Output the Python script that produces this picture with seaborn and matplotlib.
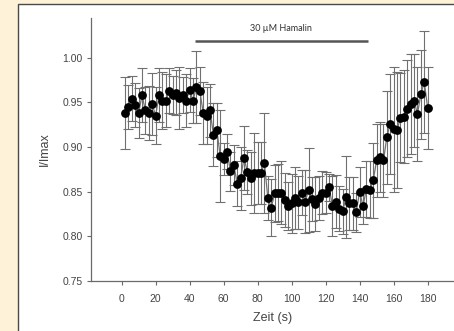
import matplotlib
matplotlib.use("Agg")
import matplotlib.pyplot as plt
from matplotlib.patches import Rectangle
import numpy as np
import pandas as pd
import seaborn as sns

# time points (s) and normalised current values
zeit = list(range(2, 182, 2))
i_imax = [
    0.938, 0.945, 0.954, 0.947, 0.938, 0.958, 0.941, 0.938, 0.948, 0.935,
    0.958, 0.952, 0.952, 0.963, 0.958, 0.961, 0.955, 0.958, 0.952, 0.964,
    0.952, 0.967, 0.963, 0.938, 0.935, 0.941, 0.914, 0.919, 0.890, 0.887,
    0.895, 0.873, 0.880, 0.859, 0.865, 0.888, 0.872, 0.865, 0.871, 0.871,
    0.871, 0.882, 0.843, 0.832, 0.848, 0.849, 0.849, 0.841, 0.834, 0.837,
    0.843, 0.838, 0.849, 0.839, 0.852, 0.842, 0.836, 0.843, 0.849, 0.849,
    0.855, 0.834, 0.839, 0.831, 0.828, 0.844, 0.837, 0.837, 0.827, 0.850,
    0.834, 0.853, 0.852, 0.863, 0.885, 0.889, 0.885, 0.911, 0.926, 0.920,
    0.919, 0.933, 0.934, 0.943, 0.948, 0.952, 0.937, 0.959, 0.973, 0.944,
]
fehler = [
    0.040, 0.025, 0.025, 0.025, 0.028, 0.030, 0.026, 0.030, 0.035, 0.032,
    0.030, 0.032, 0.030, 0.025, 0.021, 0.025, 0.035, 0.020, 0.030, 0.025,
    0.025, 0.040, 0.027, 0.035, 0.032, 0.030, 0.035, 0.030, 0.052, 0.018,
    0.020, 0.022, 0.022, 0.025, 0.035, 0.036, 0.025, 0.030, 0.045, 0.035,
    0.035, 0.056, 0.025, 0.032, 0.032, 0.032, 0.035, 0.030, 0.027, 0.033,
    0.035, 0.030, 0.025, 0.035, 0.047, 0.025, 0.030, 0.025, 0.024, 0.023,
    0.015, 0.034, 0.030, 0.025, 0.025, 0.046, 0.030, 0.030, 0.022, 0.028,
    0.020, 0.031, 0.032, 0.042, 0.041, 0.039, 0.041, 0.052, 0.056, 0.070,
    0.065, 0.050, 0.052, 0.054, 0.056, 0.052, 0.053, 0.050, 0.057, 0.046,
]
x_ticks = [0, 20, 40, 60, 80, 100, 120, 140, 160, 180]
y_ticks = [0.75, 0.80, 0.85, 0.90, 0.95, 1.00]
balken_start, balken_ende = 43, 145
balken_label = "30 µM Hamalin"

df = pd.DataFrame({"zeit": zeit, "i_imax": i_imax, "fehler": fehler})

sns.set_theme(style="white")
plt.rcParams["font.family"] = ["Liberation Sans", "DejaVu Sans"]

fig = plt.figure(figsize=(4.54, 3.31), dpi=100)
fig.patch.set_facecolor("#fef3d8")
fig.patches.append(Rectangle((18 / 454, -0.01), 1.0, (331 - 4) / 331 + 0.01,
                             transform=fig.transFigure, facecolor="white",
                             edgecolor="#4a4a4a", linewidth=1.0, zorder=-10))

ax = fig.add_axes([91 / 454, 50 / 331, 1 - 91 / 454, 263 / 331])
ax.set_facecolor("none")

ax.errorbar(df["zeit"], df["i_imax"], yerr=df["fehler"], fmt="none",
            ecolor="#707070", elinewidth=0.8, capsize=3.3, capthick=0.8, zorder=1)
sns.lineplot(data=df, x="zeit", y="i_imax", color="#707070", linewidth=0.9,
             ax=ax, zorder=2)
sns.scatterplot(data=df, x="zeit", y="i_imax", color="black", s=40,
                edgecolor="black", linewidth=0, ax=ax, zorder=3)

ax.plot([balken_start, balken_ende], [1.019, 1.019], color="#555555",
        linewidth=1.8, solid_capstyle="butt", clip_on=False)
ax.text((balken_start + balken_ende) / 2, 1.028, balken_label, ha="center",
        va="bottom", fontsize=6.5, color="#333333", family=["Lato", "DejaVu Sans"])

ax.set_xlim(-18, 195.5)
ax.set_ylim(0.75, 1.0445)
ax.set_xticks(x_ticks)
ax.set_yticks(y_ticks)
ax.set_yticklabels([f"{v:.2f}" for v in y_ticks])

for side in ["top", "right"]:
    ax.spines[side].set_visible(False)
for side in ["left", "bottom"]:
    ax.spines[side].set_color("#6a6a6a")
    ax.spines[side].set_linewidth(0.9)

ax.tick_params(axis="both", direction="out", length=3, width=0.8, color="#6a6a6a",
               labelsize=7.5, labelcolor="#444444", left=True, bottom=True)
ax.tick_params(axis="x", pad=6)
ax.tick_params(axis="y", pad=3)

ax.set_xlabel("Zeit (s)", fontsize=9, color="#444444", labelpad=6)
ax.set_ylabel("I/Imax", fontsize=9, color="#444444", labelpad=8)

fig.savefig("out.png", dpi=100, facecolor=fig.get_facecolor())
